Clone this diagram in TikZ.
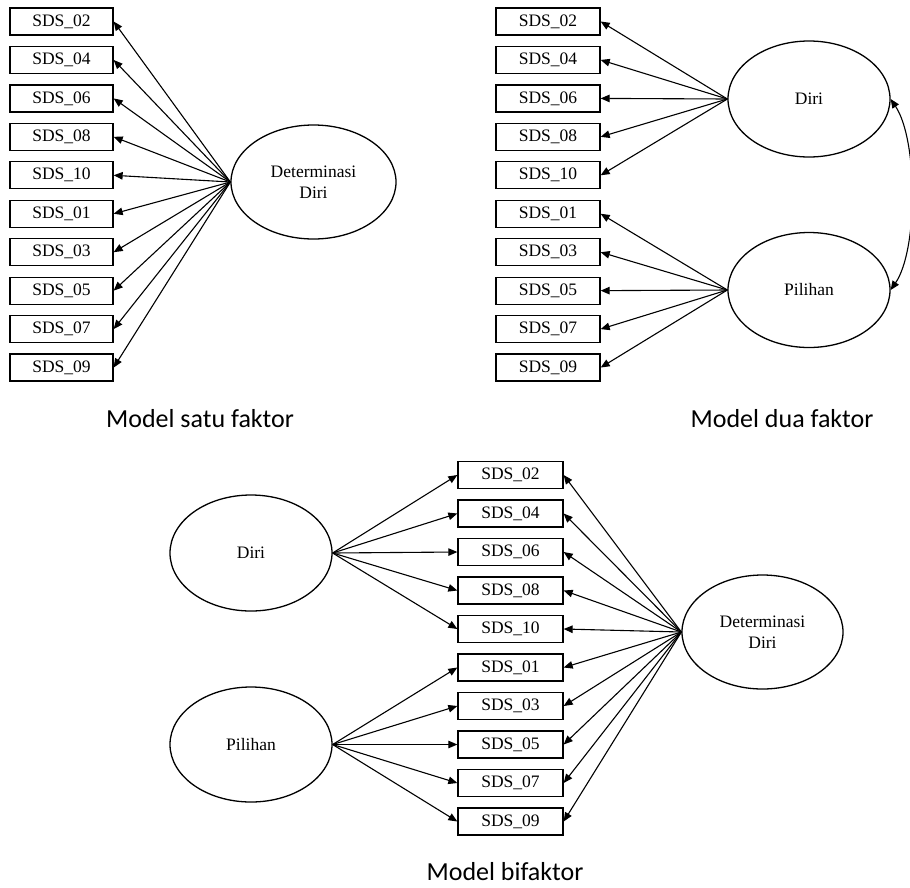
\documentclass[tikz,border=0pt]{standalone}
\usepackage{fontspec}
\setmainfont{Liberation Serif}
\newfontfamily\capfont{Carlito}
\usetikzlibrary{shapes.geometric,arrows.meta}
\tikzset{
  itembox/.style={draw, line width=1.3pt, minimum width=104pt, minimum height=27pt, inner sep=0pt, font=\fontsize{17.5}{21}\selectfont},
  latent/.style={ellipse, draw, line width=1.3pt, minimum width=164pt, minimum height=114pt, inner sep=0pt, align=center, font=\fontsize{17.5}{21}\selectfont},
  arr/.style={-{Triangle[length=9pt,width=7.5pt]}, line width=1.1pt},
  biarr/.style={{Triangle[length=9pt,width=7.5pt]}-{Triangle[length=9pt,width=7.5pt]}, line width=1.1pt},
  caption/.style={anchor=base, inner sep=0pt, font=\capfont\fontsize{26}{30}\selectfont}
}
\begin{document}
\begin{tikzpicture}[x=1pt,y=-1pt]
\useasboundingbox (0,0) rectangle (910,887);
% ---------- Model satu faktor ----------
\foreach \n [count=\i from 0] in {02,04,06,08,10,01,03,05,07,09} {
  \node[itembox, minimum width=103pt] (a\n) at (61.5,{21.5+38.45*\i}) {SDS\_\n};
}
\node[latent, minimum width=165pt] (detA) at (313.5,182) {Determinasi\\Diri};
\foreach \n in {02,04,06,08,10,01,03,05,07,09} {
  \draw[arr] (detA.west) -- (a\n.east);
}
\node[caption] (capA) at (200,427) {Model satu faktor};
% ---------- Model dua faktor ----------
\foreach \n [count=\i from 0] in {02,04,06,08,10,01,03,05,07,09} {
  \node[itembox] (b\n) at (548,{21.5+38.45*\i}) {SDS\_\n};
}
\node[latent, minimum width=162pt, minimum height=116pt] (diriB) at (809,99) {Diri};
\node[latent, minimum width=162pt, minimum height=115pt] (pilB) at (809,290) {Pilihan};
\foreach \n in {02,04,06,08,10} {
  \draw[arr] (diriB.west) -- (b\n.east);
}
\foreach \n in {01,03,05,07,09} {
  \draw[arr] (pilB.west) -- (b\n.east);
}
\draw[biarr] (diriB.east) .. controls (918,140) and (918,250) .. (pilB.east);
\node[caption] (capB) at (782,427) {Model dua faktor};
% ---------- Model bifaktor ----------
\foreach \n [count=\i from 0] in {02,04,06,08,10,01,03,05,07,09} {
  \node[itembox, minimum width=105pt] (c\n) at (510.5,{475+38.5*\i}) {SDS\_\n};
}
\node[latent, minimum width=162pt, minimum height=116pt] (diriC) at (251,553) {Diri};
\node[latent, minimum width=162pt, minimum height=115pt] (pilC) at (251,744.5) {Pilihan};
\node[latent, minimum width=161pt, minimum height=114pt] (detC) at (762.5,632) {Determinasi\\Diri};
\foreach \n in {02,04,06,08,10} {
  \draw[arr] (diriC.east) -- (c\n.west);
}
\foreach \n in {01,03,05,07,09} {
  \draw[arr] (pilC.east) -- (c\n.west);
}
\foreach \n in {02,04,06,08,10,01,03,05,07,09} {
  \draw[arr] (detC.west) -- (c\n.east);
}
\node[caption] (capC) at (505,880) {Model bifaktor};
\end{tikzpicture}
\end{document}
